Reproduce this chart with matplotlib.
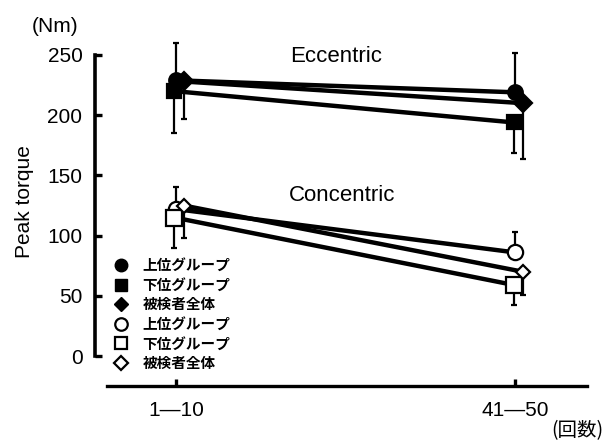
import matplotlib
matplotlib.use("Agg")
import matplotlib.pyplot as plt
import numpy as np
from matplotlib.lines import Line2D
from matplotlib.font_manager import FontProperties

# data
periods = ["1—10", "41—50"]

ecc_upper = [229, 219]      # 上位グループ (filled circle)
ecc_lower = [220, 194]      # 下位グループ (filled square)
ecc_all = [228, 210]        # 被検者全体 (filled diamond)
con_upper = [122, 86]       # 上位グループ (open circle)
con_lower = [115, 59]       # 下位グループ (open square)
con_all = [125, 70]         # 被検者全体 (open diamond)

# one-sided error bars (Nm)
ecc_upper_err_up = [31, 33]
ecc_lower_err_down = [35, 25]
ecc_all_err_down = [31, 46]
con_upper_err_up = [18, 17]
con_lower_err_down = [25, 17]
con_all_err_down = [27, 19]

legend_labels = ["上位グループ", "下位グループ", "被検者全体",
                 "上位グループ", "下位グループ", "被検者全体"]
y_ticks = [0, 50, 100, 150, 200, 250]

W, H = 608, 442
fig = plt.figure(figsize=(W / 100, H / 100), dpi=100)
ax = fig.add_axes([95 / W, (H - 356) / H, (590 - 95) / W, 262 * 1.204 / H])

x = np.arange(len(periods))
zero = [0, 0]


def series(y, marker, ms, filled, err_lo, err_hi, dx=0.0, lw=3.2):
    xs = x + dx
    ax.errorbar(xs, y, yerr=[err_lo, err_hi], fmt='none', ecolor='k',
                elinewidth=1.6, capsize=2.5, capthick=1.6, zorder=2)
    ax.plot(xs, y, color='k', linewidth=lw, zorder=3)
    ax.plot(xs, y, linestyle='none', marker=marker, markersize=ms,
            markerfacecolor='k' if filled else 'white',
            markeredgecolor='k', markeredgewidth=1.6, zorder=4)


series(ecc_upper, 'o', 10.5, True, zero, ecc_upper_err_up)
series(ecc_lower, 's', 10.5, True, ecc_lower_err_down, zero, dx=-0.005)
series(ecc_all, 'D', 9, True, ecc_all_err_down, zero, dx=0.022)
series(con_upper, 'o', 11, False, zero, con_upper_err_up)
series(con_lower, 's', 11, False, con_lower_err_down, zero, dx=-0.005)
series(con_all, 'D', 7.5, False, con_all_err_down, zero, dx=0.022)

ax.set_xlim(-0.239, 1.22)
ax.set_ylim(0, 262)

for s in ['top', 'right']:
    ax.spines[s].set_visible(False)
ax.spines['left'].set_bounds(0, 250)
ax.spines['left'].set_linewidth(2.6)
ax.spines['bottom'].set_position(('outward', 30 * 0.72))
ax.spines['bottom'].set_bounds(-0.204, 1.212)
ax.spines['bottom'].set_linewidth(2.4)

ax.set_yticks(y_ticks)
ax.set_xticks(x)
ax.set_xticklabels(periods)
ax.tick_params(axis='y', direction='in', length=5, width=2.4, pad=9,
               labelsize=15)
ax.tick_params(axis='x', direction='in', length=5, width=2.4, pad=11,
               labelsize=15)
for lab in ax.get_xticklabels() + ax.get_yticklabels():
    lab.set_family('Liberation Sans')

ax.set_ylabel('Peak torque', family='Liberation Sans', fontsize=15)
ax.yaxis.set_label_coords(-0.124, 0.49)

ax.text(0.472, 249, 'Eccentric', family='Liberation Sans', fontsize=16,
        ha='center', va='center')
ax.text(0.49, 133, 'Concentric', family='Liberation Sans', fontsize=16,
        ha='center', va='center')

fig.text(55 / W, 1 - 27 / H, '(Nm)', family='Liberation Sans', fontsize=15,
         ha='center', va='center')
fig.text(577 / W, 1 - 431 / H, '(回数)', family=['Noto Sans CJK JP'],
         fontsize=14, ha='center', va='center')

handles = [
    Line2D([], [], linestyle='none', marker='o', markersize=9,
           markerfacecolor='k', markeredgecolor='k'),
    Line2D([], [], linestyle='none', marker='s', markersize=9,
           markerfacecolor='k', markeredgecolor='k'),
    Line2D([], [], linestyle='none', marker='D', markersize=7.5,
           markerfacecolor='k', markeredgecolor='k'),
    Line2D([], [], linestyle='none', marker='o', markersize=9,
           markerfacecolor='white', markeredgecolor='k', markeredgewidth=1.6),
    Line2D([], [], linestyle='none', marker='s', markersize=9,
           markerfacecolor='white', markeredgecolor='k', markeredgewidth=1.6),
    Line2D([], [], linestyle='none', marker='D', markersize=7.5,
           markerfacecolor='white', markeredgecolor='k', markeredgewidth=1.6),
]
leg = fig.legend(handles, legend_labels, loc='upper left',
                 bbox_to_anchor=(114 / W, 1 - 257 / H), frameon=False,
                 prop=FontProperties(family='Noto Sans CJK JP', weight='bold',
                                     size=10.5),
                 handlelength=1.0, handletextpad=0.95, labelspacing=0.25,
                 borderpad=0, borderaxespad=0)

fig.savefig('out.png', dpi=100)
